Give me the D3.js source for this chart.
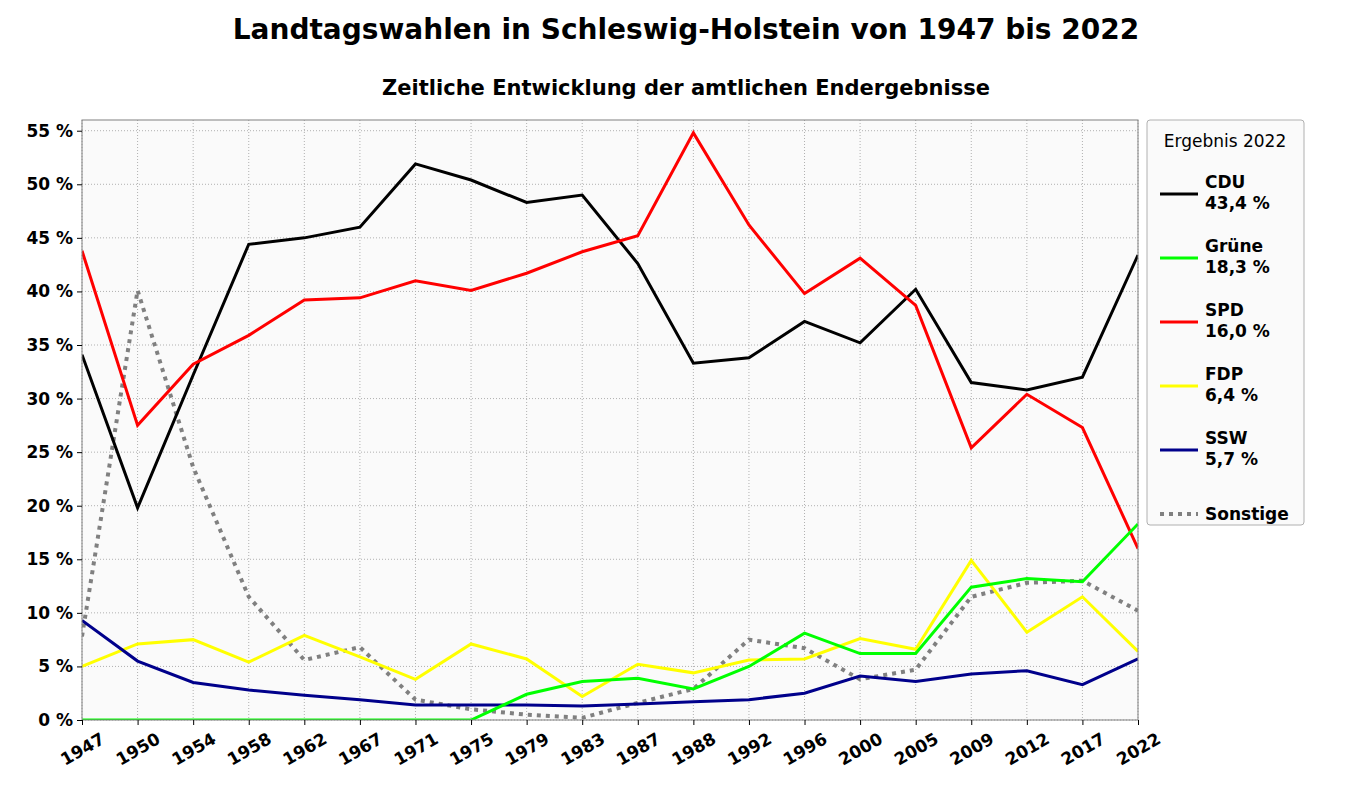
<!DOCTYPE html>
<html>
<head>
<meta charset="utf-8">
<script src="https://cdn.jsdelivr.net/npm/d3@7"></script>
<style>
body { margin: 0; background: #ffffff; }
svg { font-family: "DejaVu Sans", sans-serif; }
</style>
</head>
<body>
<div id="viz"></div>
<script>
// Wahljahre (gleichmäßig verteilt)
const years = ["1947","1950","1954","1958","1962","1967","1971","1975","1979","1983",
	"1987","1988","1992","1996","2000","2005","2009","2012","2017","2022"];

const cdu = [34.1,19.8,32.2,44.4,45.0,46.0,51.9,50.4,48.3,49.0,42.6,33.3,33.8,37.2,35.2,40.2,31.5,30.8,32.0,43.4];
const gruene = [0,0,0,0,0,0,0,0,2.4,3.6,3.9,2.9,5.0,8.1,6.2,6.2,12.4,13.2,12.9,18.3];
const spd = [43.8,27.5,33.2,35.9,39.2,39.4,41.0,40.1,41.7,43.7,45.2,54.8,46.2,39.8,43.1,38.7,25.4,30.4,27.3,16.0];
const fdp = [5.0,7.1,7.5,5.4,7.9,5.9,3.8,7.1,5.7,2.2,5.2,4.4,5.6,5.7,7.6,6.6,14.9,8.2,11.5,6.4];
const ssw = [9.3,5.5,3.5,2.8,2.3,1.9,1.4,1.4,1.4,1.3,1.5,1.7,1.9,2.5,4.1,3.6,4.3,4.6,3.3,5.7];
const sonstige = [7.8,40.1,23.6,11.5,5.6,6.8,1.9,1.0,0.5,0.2,1.6,2.9,7.5,6.7,3.8,4.7,11.5,12.8,13.0,10.2];

const yTicks = [0,5,10,15,20,25,30,35,40,45,50,55];

const parties = [
	{ name: "CDU", result: "43,4 %", values: cdu, color: "#000000" },
	{ name: "Grüne", result: "18,3 %", values: gruene, color: "#00ff00" },
	{ name: "SPD", result: "16,0 %", values: spd, color: "#ff0000" },
	{ name: "FDP", result: "6,4 %", values: fdp, color: "#ffff00" },
	{ name: "SSW", result: "5,7 %", values: ssw, color: "#00008b" },
	{ name: "Sonstige", result: null, values: sonstige, color: "#808080", dotted: true }
];

function draw() {
	let width = 1371, height = 800;
	let pLeft = 82, pRight = 1138, pTop = 120, pBottom = 720;

	let svg = d3.select("#viz").append("svg")
		.attr("width", width).attr("height", height);

	svg.append("text").text("Landtagswahlen in Schleswig-Holstein von 1947 bis 2022")
		.attr("x", 686).attr("y", 39)
		.attr("text-anchor", "middle")
		.style("font-size", "28px").style("font-weight", "bold");

	svg.append("text").text("Zeitliche Entwicklung der amtlichen Endergebnisse")
		.attr("x", 686).attr("y", 95)
		.attr("text-anchor", "middle")
		.style("font-size", "21px").style("font-weight", "bold");

	let x = d3.scalePoint().domain(years).range([pLeft, pRight]).padding(0);
	let y = d3.scaleLinear().domain([0, 56]).range([pBottom, pTop]);

	svg.append("clipPath").attr("id", "plotclip")
		.append("rect")
		.attr("x", pLeft).attr("y", pTop)
		.attr("width", pRight - pLeft).attr("height", pBottom - pTop);

	// Hintergrund
	svg.append("rect")
		.attr("x", pLeft).attr("y", pTop)
		.attr("width", pRight - pLeft).attr("height", pBottom - pTop)
		.style("fill", "#fafafa");

	// Gitter
	svg.append("g").selectAll("line").data(yTicks).join("line")
		.attr("x1", pLeft).attr("x2", pRight)
		.attr("y1", d => y(d)).attr("y2", d => y(d))
		.attr("stroke", "#b0b0b0").attr("stroke-width", 1)
		.attr("stroke-dasharray", "1,2");

	svg.append("g").selectAll("line").data(years).join("line")
		.attr("x1", d => x(d)).attr("x2", d => x(d))
		.attr("y1", pTop).attr("y2", pBottom)
		.attr("stroke", "#b0b0b0").attr("stroke-width", 1)
		.attr("stroke-dasharray", "1,2");

	// Linien
	let line = d3.line().x((d, i) => x(years[i])).y(d => y(d));
	let drawOrder = [parties[5], parties[0], parties[2], parties[3], parties[4], parties[1]];
	svg.append("g").attr("clip-path", "url(#plotclip)")
		.selectAll("path").data(drawOrder).join("path")
		.attr("d", d => line(d.values))
		.attr("fill", "none")
		.attr("stroke", d => d.color)
		.attr("stroke-width", d => d.dotted ? 4 : 3)
		.attr("stroke-dasharray", d => d.dotted ? "4,5" : null)
		.attr("stroke-linejoin", "miter");

	// Rahmen
	svg.append("rect")
		.attr("x", pLeft).attr("y", pTop)
		.attr("width", pRight - pLeft).attr("height", pBottom - pTop)
		.style("fill", "none").style("stroke", "#808080").style("stroke-width", 1);

	// Achsen
	let yAxis = svg.append("g")
		.attr("transform", "translate(" + pLeft + ",0)")
		.call(d3.axisLeft(y).tickValues(yTicks).tickSize(5).tickPadding(4)
			.tickFormat(d => d + " %"));
	yAxis.select(".domain").remove();
	yAxis.selectAll("line").attr("stroke", "#000");
	yAxis.selectAll("text")
		.style("font-size", "17px").style("font-weight", "bold")
		.style("font-family", "DejaVu Sans").attr("fill", "#000");

	let xAxis = svg.append("g")
		.attr("transform", "translate(0," + pBottom + ")")
		.call(d3.axisBottom(x).tickSize(5));
	xAxis.select(".domain").remove();
	xAxis.selectAll("line").attr("stroke", "#000");
	xAxis.selectAll("text")
		.attr("y", 0).attr("dy", "0.35em")
		.attr("text-anchor", "middle")
		.attr("transform", "translate(0,29) rotate(-30)")
		.style("font-size", "17px").style("font-weight", "bold")
		.style("font-family", "DejaVu Sans").attr("fill", "#000");

	// Legende
	let lg = svg.append("g");
	lg.append("rect")
		.attr("x", 1147).attr("y", 120)
		.attr("width", 157).attr("height", 405)
		.attr("rx", 3).attr("ry", 3)
		.style("fill", "#fafafa").style("stroke", "#b0b0b0").style("stroke-width", 1);

	lg.append("text").text("Ergebnis 2022")
		.attr("x", 1225).attr("y", 147)
		.attr("text-anchor", "middle")
		.style("font-size", "17px");

	let entries = lg.selectAll("g.entry").data(parties).join("g")
		.attr("class", "entry")
		.attr("transform", (d, i) => "translate(1160," + (194 + i * 64) + ")");

	entries.append("line")
		.attr("x1", 0).attr("x2", 38)
		.attr("y1", 0).attr("y2", 0)
		.attr("stroke", d => d.color)
		.attr("stroke-width", d => d.dotted ? 4 : 3)
		.attr("stroke-dasharray", d => d.dotted ? "4,5" : null);

	entries.append("text")
		.attr("x", 45)
		.attr("y", d => d.result ? -6 : 6)
		.text(d => d.name)
		.style("font-size", "17px").style("font-weight", "bold");

	entries.filter(d => d.result).append("text")
		.attr("x", 45).attr("y", 15)
		.text(d => d.result)
		.style("font-size", "17px").style("font-weight", "bold");
}

draw();
</script>
</body>
</html>
